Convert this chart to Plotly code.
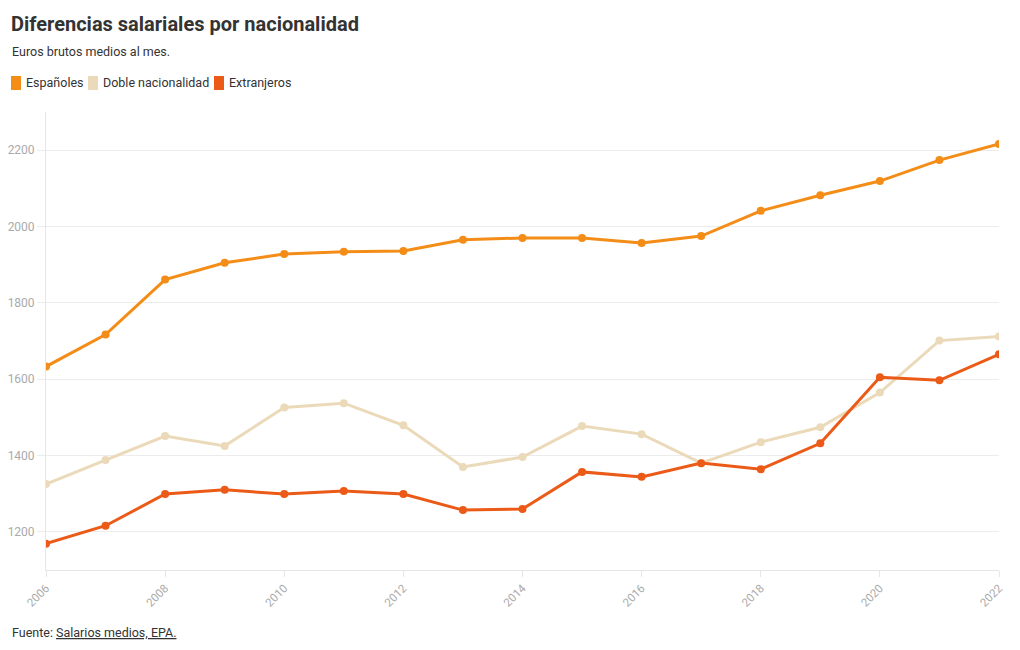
import plotly.graph_objects as go

years = list(range(2006, 2023))
espanoles = [1633, 1717, 1861, 1905, 1928, 1934, 1936, 1965, 1970, 1970, 1957, 1975, 2041, 2082, 2119, 2174, 2216]
doble = [1325, 1388, 1451, 1425, 1526, 1537, 1479, 1370, 1396, 1477, 1456, 1380, 1435, 1474, 1565, 1701, 1712]
extranjeros = [1169, 1216, 1299, 1310, 1299, 1307, 1299, 1257, 1260, 1357, 1344, 1380, 1364, 1432, 1605, 1597, 1665]

series = [
    ("Españoles", espanoles, "#F38D17"),
    ("Doble nacionalidad", doble, "#EBDAB9"),
    ("Extranjeros", extranjeros, "#EB5A17"),
]

FONT = "Roboto"
W, H = 1020, 650
OFF = 8  # page body margin offset
# target plot area on screen: left 46, right 999, top 112, bottom 570
ML, MR, MT, MB = 46 - OFF, W - (999 - OFF), 112 - OFF, H - (570 - OFF)
PW, PH = W - ML - MR, H - MT - MB


def px_x(px):
    return (px - OFF - ML) / PW


def px_y(py):
    return (H - MB - (py - OFF)) / PH


fig = go.Figure()
for name, vals, col in series:
    fig.add_trace(go.Scatter(
        x=years, y=vals, name=name, mode="lines+markers",
        line=dict(color=col, width=3), marker=dict(color=col, size=8),
        showlegend=False, hovertemplate="%{x}: %{y} €<extra>" + name + "</extra>",
    ))

legend_pos = [(11, 24), (88, 101), (214, 227)]
shapes = []
annotations = [
    dict(text="<b>Diferencias salariales por nacionalidad</b>", xref="paper", yref="paper",
         x=px_x(9), y=px_y(24), xanchor="left", yanchor="middle", showarrow=False,
         font=dict(size=20, color="#333333", family=FONT)),
    dict(text="Euros brutos medios al mes.", xref="paper", yref="paper",
         x=px_x(10), y=px_y(52), xanchor="left", yanchor="middle", showarrow=False,
         font=dict(size=12.5, color="#333333", family=FONT)),
    dict(text="Fuente: <u>Salarios medios, EPA.</u>", xref="paper", yref="paper",
         x=px_x(10), y=px_y(632), xanchor="left", yanchor="middle", showarrow=False,
         font=dict(size=12.5, color="#333333", family=FONT)),
]
for (name, _, col), (sx, tx) in zip(series, legend_pos):
    shapes.append(dict(type="rect", xref="paper", yref="paper",
                       x0=px_x(sx), x1=px_x(sx + 10), y0=px_y(90), y1=px_y(76),
                       fillcolor=col, line=dict(width=0), layer="above"))
    annotations.append(dict(text=name, xref="paper", yref="paper",
                            x=px_x(tx), y=px_y(83), xanchor="left", yanchor="middle",
                            showarrow=False, font=dict(size=12.5, color="#333333", family=FONT)))

fig.update_layout(
    width=W, height=H,
    margin=dict(l=ML, r=MR, t=MT, b=MB, autoexpand=False),
    paper_bgcolor="white", plot_bgcolor="white",
    font=dict(family=FONT, color="#333333"),
    showlegend=False,
    shapes=shapes, annotations=annotations,
)
fig.update_xaxes(
    range=[2006, 2022], tickmode="array", tickvals=list(range(2006, 2023, 2)),
    tickangle=-45, tickfont=dict(size=11.5, color="#aaaaaa", family=FONT),
    showgrid=False, showline=True, linecolor="#e6e6e6", linewidth=1,
    ticks="outside", ticklen=6, tickcolor="#e6e6e6", zeroline=False, automargin=False,
)
fig.update_yaxes(
    range=[1100, 2300], tickvals=[1200, 1400, 1600, 1800, 2000, 2200],
    tickfont=dict(size=12, color="#aaaaaa", family=FONT),
    showgrid=True, gridcolor="#ececec", gridwidth=1,
    showline=True, linecolor="#e6e6e6", linewidth=1,
    ticks="outside", ticklen=8, tickcolor="#ececec", zeroline=False, automargin=False,
)

fig.write_html("out.html")
